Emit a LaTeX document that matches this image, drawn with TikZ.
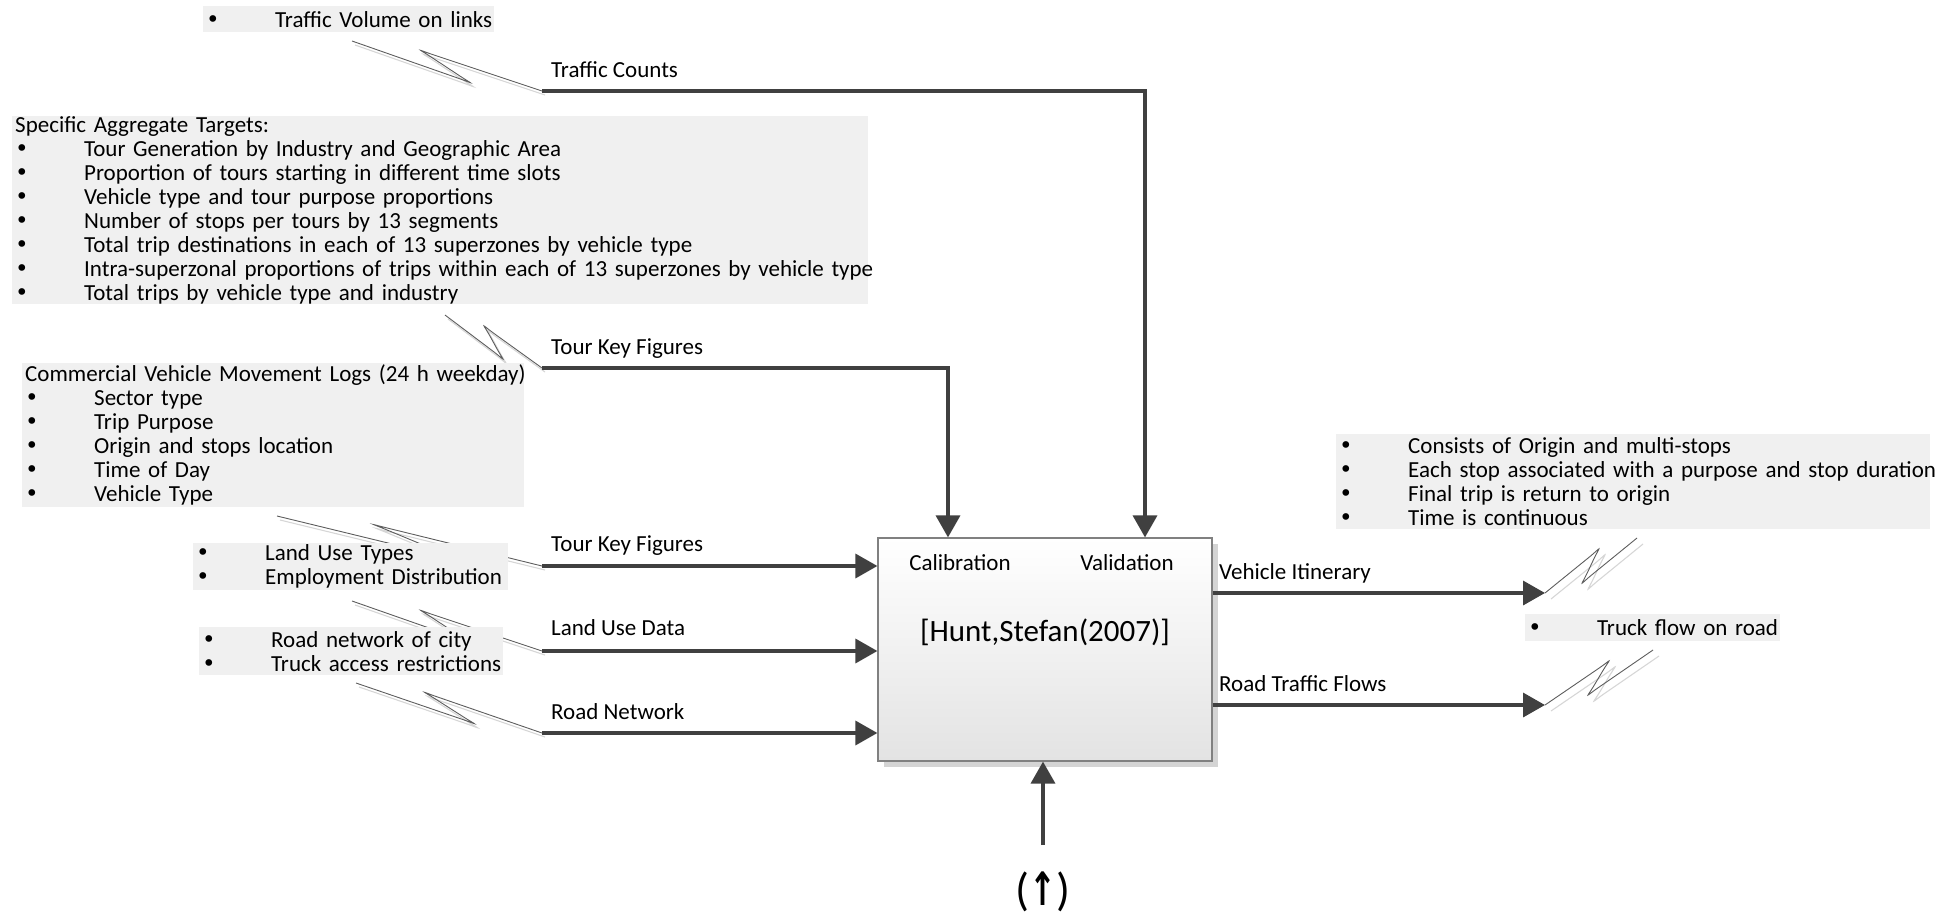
\documentclass[tikz,border=0pt]{standalone}
\usepackage{fontspec}
\setmainfont{Carlito}
\newfontfamily\arrowfont{DejaVu Sans}
\usetikzlibrary{arrows.meta,calc,shadows}
\definecolor{boxgray}{HTML}{F0F0F0}
\definecolor{ink}{HTML}{404040}
\definecolor{rim}{HTML}{808080}
% one bullet line of a list: bullet, tab, text (never wrapped)
\newcommand\itm[1]{\mbox{\makebox[69pt][l]{\arrowfont\textbullet}#1}}
% hairpin turn at #2, coming from #1 and leaving towards #3
\newcommand\hp[3]{-- ($(#2)!12pt!(#1)$) .. controls ($(#2)!-6pt!(#1)$) and ($(#2)!-6pt!(#3)$) .. ($(#2)!12pt!(#3)$)}
\begin{document}
\begin{tikzpicture}[x=1pt,y=-1pt,
  lst/.style={fill=boxgray, anchor=north west, align=left, inner xsep=3pt,
    inner ysep=0pt, font=\fontsize{23}{24}\selectfont},
  lab/.style={anchor=base west, inner sep=0pt, font=\fontsize{23}{24}\selectfont},
  flow/.style={draw=ink, line width=3.5pt, -{Triangle[length=22pt,width=24pt]}},
  squig/.style={draw=ink!85, line width=0.9pt},
  squigshade/.style={draw=black!16, line width=1.1pt},
]
\useasboundingbox (0,0) rectangle (1948,916);

% ---------- arrow start points and squiggle points ----------
\coordinate (tc)  at (542,91);
\coordinate (tk1) at (542,368);
\coordinate (tk2) at (542,566);
\coordinate (lud) at (542,651);
\coordinate (rn)  at (542,733);
\coordinate (vi)  at (1545,593);
\coordinate (rtf) at (1545,705);
\coordinate (ctl) at (1043,845);

\coordinate (s1) at (352,41);  \coordinate (a1) at (469,82);  \coordinate (b1) at (422,51);
\coordinate (s2) at (445,315); \coordinate (a2) at (502,358); \coordinate (b2) at (485,327);
\coordinate (s3) at (277,516); \coordinate (a3) at (462,561); \coordinate (b3) at (375,525);
\coordinate (s4) at (352,601); \coordinate (a4) at (469,642); \coordinate (b4) at (422,611);
\coordinate (s5) at (356,683); \coordinate (a5) at (473,723); \coordinate (b5) at (426,693);
\coordinate (a6) at (1598,550); \coordinate (b6) at (1583,582); \coordinate (e6) at (1637,538);
\coordinate (a7) at (1608,662); \coordinate (b7) at (1589,694); \coordinate (e7) at (1653,650);

% ---------- squiggles (drawn first, the text boxes cover them) ----------
\begin{scope}[transform canvas={shift={(3pt,-4pt)}}]
  \draw[squigshade] (s1) \hp{s1}{a1}{b1} \hp{a1}{b1}{tc} -- (tc);
  \draw[squigshade] (s2) \hp{s2}{a2}{b2} \hp{a2}{b2}{tk1} -- (tk1);
  \draw[squigshade] (s3) \hp{s3}{a3}{b3} \hp{a3}{b3}{tk2} -- (tk2);
  \draw[squigshade] (s4) \hp{s4}{a4}{b4} \hp{a4}{b4}{lud} -- (lud);
  \draw[squigshade] (s5) \hp{s5}{a5}{b5} \hp{a5}{b5}{rn} -- (rn);
\end{scope}
\begin{scope}[transform canvas={shift={(6pt,-6pt)}}]
  \draw[squigshade] (vi) \hp{vi}{a6}{b6} \hp{a6}{b6}{e6} -- (e6);
  \draw[squigshade] (rtf) \hp{rtf}{a7}{b7} \hp{a7}{b7}{e7} -- (e7);
\end{scope}
\draw[squig] (s1) \hp{s1}{a1}{b1} \hp{a1}{b1}{tc} -- (tc);
\draw[squig] (s2) \hp{s2}{a2}{b2} \hp{a2}{b2}{tk1} -- (tk1);
\draw[squig] (s3) \hp{s3}{a3}{b3} \hp{a3}{b3}{tk2} -- (tk2);
\draw[squig] (s4) \hp{s4}{a4}{b4} \hp{a4}{b4}{lud} -- (lud);
\draw[squig] (s5) \hp{s5}{a5}{b5} \hp{a5}{b5}{rn} -- (rn);
\draw[squig] (vi) \hp{vi}{a6}{b6} \hp{a6}{b6}{e6} -- (e6);
\draw[squig] (rtf) \hp{rtf}{a7}{b7} \hp{a7}{b7}{e7} -- (e7);

% ---------- text boxes ----------
\node[lst, text width=285pt, minimum height=26pt] (vol) at (203,6)
  {\itm{Traffic Volume on links}};
\node[lst, text width=850pt, minimum height=188pt] (sat) at (12,116)
  {\mbox{Specific Aggregate Targets:}\\
   \itm{Tour Generation by Industry and Geographic Area}\\
   \itm{Proportion of tours starting in different time slots}\\
   \itm{Vehicle type and tour purpose proportions}\\
   \itm{Number of stops per tours by 13 segments}\\
   \itm{Total trip destinations in each of 13 superzones by vehicle type}\\
   \itm{Intra-superzonal proportions of trips within each of 13 superzones by vehicle type}\\
   \itm{Total trips by vehicle type and industry}};
\node[lst, text width=496pt, minimum height=144pt] (cvm) at (22,363)
  {\mbox{Commercial Vehicle Movement Logs (24 h weekday)}\\
   \itm{Sector type}\\
   \itm{Trip Purpose}\\
   \itm{Origin and stops location}\\
   \itm{Time of Day}\\
   \itm{Vehicle Type}};
\node[lst, text width=309pt, minimum height=47pt] (lu) at (193,543)
  {\itm{Land Use Types}\\
   \itm{Employment Distribution}};
\node[lst, text width=298pt, minimum height=48pt] (rd) at (199,627)
  {\itm{Road network of city}\\
   \itm{Truck access restrictions}};
\node[lst, text width=588pt, minimum height=95pt] (itin) at (1336,434)
  {\itm{Consists of Origin and multi-stops}\\
   \itm{Each stop associated with a purpose and stop duration}\\
   \itm{Final trip is return to origin}\\
   \itm{Time is continuous}};
\node[lst, text width=249pt, minimum height=27pt] (truck) at (1525,614)
  {\itm{Truck flow on road}};

% ---------- the process box ----------
\node[draw=rim, line width=1.2pt, top color=white, bottom color=black!11,
  minimum width=334pt, minimum height=223pt, inner sep=0pt,
  drop shadow={shadow xshift=6pt, shadow yshift=-6pt, fill=black!17, opacity=1}]
  (proc) at (1045,649.5) {};
\node[font=\fontsize{23}{24}\selectfont] (cal) at (960,563) {Calibration};
\node[font=\fontsize{23}{24}\selectfont] (val) at (1127,563) {Validation};
\node[font=\fontsize{31}{34}\selectfont] (ref) at (1045,632) {[Hunt,Stefan(2007)]};

% ---------- connectors ----------
\draw[flow] (tc) -| ([xshift=100pt]proc.north);
\draw[flow] (tk1) -| ([xshift=-97pt]proc.north);
\draw[flow] (tk2) -- (tk2 -| proc.west);
\draw[flow] (lud) -- (lud -| proc.west);
\draw[flow] (rn) -- (rn -| proc.west);
\draw[flow] (proc.east |- vi) -- (vi);
\draw[flow] (proc.east |- rtf) -- (rtf);
\draw[flow] (ctl) -- (ctl |- proc.south);

% ---------- connector labels ----------
\node[lab] (ltc)  at (551,77)  {Traffic Counts};
\node[lab] (ltk1) at (551,354) {Tour Key Figures};
\node[lab] (ltk2) at (551,551) {Tour Key Figures};
\node[lab] (llud) at (551,635) {Land Use Data};
\node[lab] (lrn)  at (551,719) {Road Network};
\node[lab] (lvi)  at (1219,579) {Vehicle Itinerary};
\node[lab] (lrtf) at (1219,691) {Road Traffic Flows};

\node[font=\fontsize{46}{50}\selectfont, inner sep=0pt] (mech) at (1043,892)
  {(\scalebox{0.7}[1]{\arrowfont\bfseries ↑})};
\end{tikzpicture}
\end{document}
